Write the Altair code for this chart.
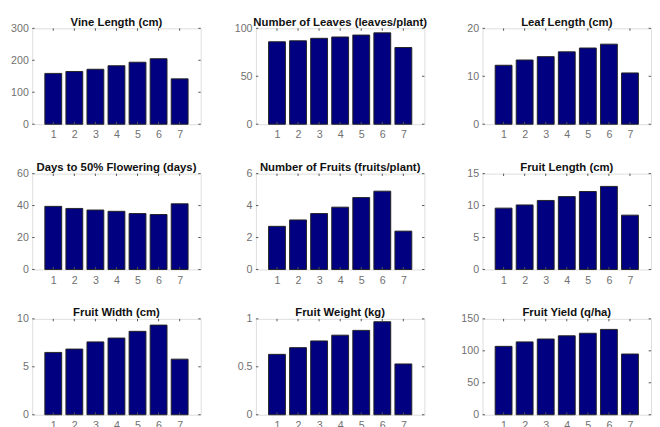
import altair as alt
import pandas as pd

categories = [1, 2, 3, 4, 5, 6, 7]

titles = [
    "Vine Length (cm)",
    "Number of Leaves (leaves/plant)",
    "Leaf Length (cm)",
    "Days to 50% Flowering (days)",
    "Number of Fruits (fruits/plant)",
    "Fruit Length (cm)",
    "Fruit Width (cm)",
    "Fruit Weight (kg)",
    "Fruit Yield (q/ha)",
]

vine_length = [159, 165, 172, 183, 194, 205, 142]
num_leaves = [86, 87, 89.6, 91, 93, 95.3, 80]
leaf_length = [12.3, 13.4, 14.1, 15.1, 15.9, 16.7, 10.7]
days_flowering = [39.5, 38.2, 37.2, 36.4, 35.0, 34.4, 41.1]
num_fruits = [2.7, 3.1, 3.5, 3.9, 4.5, 4.9, 2.4]
fruit_length = [9.6, 10.1, 10.8, 11.4, 12.2, 13.0, 8.5]
fruit_width = [6.5, 6.85, 7.6, 8.0, 8.7, 9.35, 5.8]
fruit_weight = [0.63, 0.70, 0.77, 0.83, 0.88, 0.97, 0.53]
fruit_yield = [107, 114, 118.5, 123.5, 127.5, 133.5, 95]

series = [vine_length, num_leaves, leaf_length, days_flowering, num_fruits,
          fruit_length, fruit_width, fruit_weight, fruit_yield]

y_max = [300, 100, 20, 60, 6, 15, 10, 1, 150]
y_ticks = [
    [0, 100, 200, 300],
    [0, 50, 100],
    [0, 10, 20],
    [0, 20, 40, 60],
    [0, 2, 4, 6],
    [0, 5, 10, 15],
    [0, 5, 10],
    [0, 0.5, 1],
    [0, 50, 100, 150],
]

BAR_HALF = 0.4
FONT = "Liberation Sans"
LABEL_COLOR = "#707070"
TICK_COLOR = "#555555"
W, H = 174, 99
TL = 2.5

panels = []
for title, vals, ymax, yt in zip(titles, series, y_max, y_ticks):
    xs = alt.Scale(domain=[0, 8], nice=False, zero=False)
    ys = alt.Scale(domain=[0, ymax], nice=False)
    x_axis = alt.Axis(
        values=categories, format="d", title=None, domain=False,
        ticks=False, grid=False, labelPadding=5, labelFontSize=11,
        labelColor=LABEL_COLOR, labelFont=FONT,
        minExtent=16, maxExtent=16,
    )
    y_axis = alt.Axis(
        values=yt, format="~r", title=None, domain=False,
        ticks=False, grid=False, labelPadding=4, labelFontSize=11,
        labelColor=LABEL_COLOR, labelFont=FONT,
        minExtent=24, maxExtent=24,
    )
    df = pd.DataFrame({
        "cat": categories,
        "lo": [c - BAR_HALF for c in categories],
        "hi": [c + BAR_HALF for c in categories],
        "value": vals,
        "base": [0] * len(categories),
    })
    bars = alt.Chart(df).mark_rect(
        color="#000080", stroke="#222222", strokeWidth=1
    ).encode(
        x=alt.X("lo:Q", scale=xs, axis=x_axis),
        x2="hi:Q",
        y=alt.Y("value:Q", scale=ys, axis=y_axis),
        y2="base:Q",
        tooltip=["cat:Q", "value:Q"],
    )
    xt = pd.DataFrame({"t": categories})
    ytk = pd.DataFrame({"t": yt})
    tick_bottom = alt.Chart(xt).mark_rule(color=TICK_COLOR, strokeWidth=1).encode(
        x=alt.X("t:Q", scale=xs, axis=x_axis),
        y=alt.value(H), y2=alt.value(H - TL),
    )
    tick_top = alt.Chart(xt).mark_rule(color=TICK_COLOR, strokeWidth=1).encode(
        x=alt.X("t:Q", scale=xs, axis=x_axis),
        y=alt.value(0), y2=alt.value(TL),
    )
    tick_left = alt.Chart(ytk).mark_rule(color=TICK_COLOR, strokeWidth=1).encode(
        y=alt.Y("t:Q", scale=ys, axis=y_axis),
        x=alt.value(0), x2=alt.value(TL),
    )
    tick_right = alt.Chart(ytk).mark_rule(color=TICK_COLOR, strokeWidth=1).encode(
        y=alt.Y("t:Q", scale=ys, axis=y_axis),
        x=alt.value(W), x2=alt.value(W - TL),
    )
    ch = alt.layer(bars, tick_bottom, tick_top, tick_left, tick_right).properties(
        width=W,
        height=H,
        title=alt.TitleParams(
            text=title, fontSize=11.7, fontWeight="bold", font=FONT,
            color="#111111", offset=-6,
        ),
    )
    panels.append(ch)

chart = alt.concat(
    *panels, columns=3, spacing={"row": 21, "column": 31}
).properties(
    padding={"left": 0, "top": 1, "right": 0, "bottom": 0},
).configure_view(
    stroke="#8a8a8a", strokeWidth=1
).configure(
    background="white"
)

chart.save("out.html", embed_options={"renderer": "svg", "actions": False})
